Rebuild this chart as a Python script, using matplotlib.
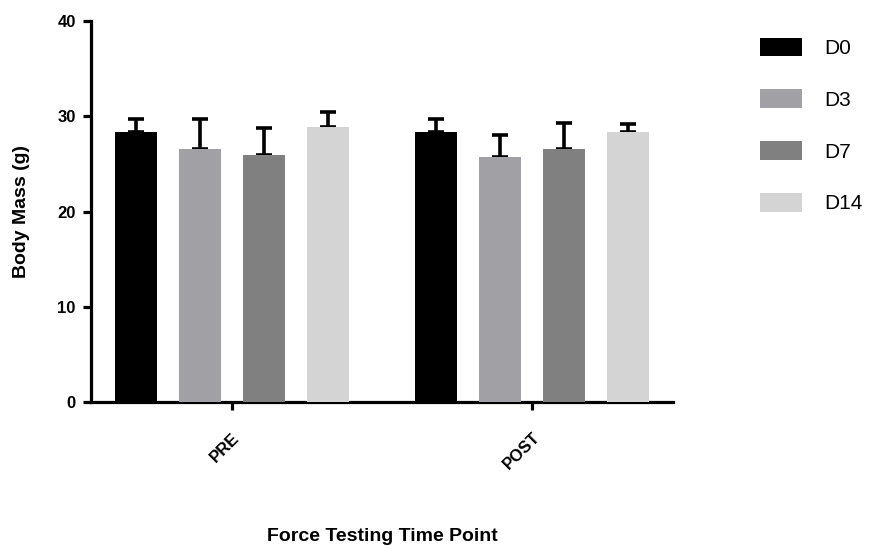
import matplotlib
matplotlib.use("Agg")
import matplotlib.pyplot as plt
import numpy as np
from matplotlib.patches import Patch

plt.rcParams['font.family'] = ['Liberation Sans', 'DejaVu Sans']

groups = ['PRE', 'POST']
series = ['D0', 'D3', 'D7', 'D14']
colors = ['#000000', '#A1A1A5', '#808080', '#D4D4D4']

# mean body mass per series, [PRE, POST]
means = {
    'D0': [28.3, 28.3],
    'D3': [26.6, 25.7],
    'D7': [25.9, 26.6],
    'D14': [28.9, 28.3],
}
# upper error (SD)
errs = {
    'D0': [1.4, 1.4],
    'D3': [3.1, 2.3],
    'D7': [2.9, 2.7],
    'D14': [1.6, 0.9],
}

fig = plt.figure(figsize=(8.8, 5.46), dpi=100)
ax = fig.add_axes([0.1034, 0.2637, 0.6614, 0.6978])

x = np.arange(len(groups))
step = 0.2133
width = 0.14
for i, s in enumerate(series):
    pos = x + (i - 1.5) * step
    m = np.array(means[s])
    e = np.array(errs[s])
    ax.bar(pos, m, width=width, color=colors[i], zorder=3)
    ax.errorbar(pos, m, yerr=[np.zeros_like(e), e], fmt='none',
                ecolor='black', elinewidth=2.6, capsize=6, capthick=2.6, zorder=2)

ax.set_xlim(-0.47, 1.47)
ax.set_ylim(0, 40)
ax.set_yticks([0, 10, 20, 30, 40])
ax.set_xticks(x)
ax.set_xticklabels(groups, rotation=45, ha='right', rotation_mode='anchor',
                   fontsize=12, fontweight='bold')
for lab in ax.get_yticklabels():
    lab.set_fontsize(12)
    lab.set_fontweight('bold')

for sp in ['top', 'right']:
    ax.spines[sp].set_visible(False)
for sp in ['left', 'bottom']:
    ax.spines[sp].set_linewidth(2.3)
ax.tick_params(axis='both', width=2.3, length=6, direction='out')
ax.tick_params(axis='y', pad=5)
ax.tick_params(axis='x', pad=14)

ax.set_ylabel('Body Mass (g)', fontsize=14, fontweight='bold', labelpad=20)
ax.set_xlabel('Force Testing Time Point', fontsize=14, fontweight='bold', labelpad=40)

handles = [Patch(facecolor=c, edgecolor='none') for c in colors]
ax.legend(handles, series, loc='upper left', bbox_to_anchor=(1.135, 0.978),
          frameon=False, fontsize=15, handlelength=2.0, handleheight=1.0,
          labelspacing=1.5, handletextpad=1.1, borderaxespad=0)

fig.savefig('out.png', dpi=100)
